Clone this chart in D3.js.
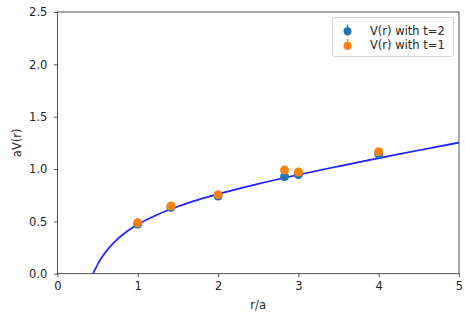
<!DOCTYPE html>
<html><head><meta charset="utf-8">
<script src="https://cdn.jsdelivr.net/npm/d3@7"></script>
<style>body{margin:0;background:#fff}svg{display:block}text{font-family:"DejaVu Sans",sans-serif}</style>
</head><body><svg id="c" width="465" height="320"></svg>
<script>
const rPoints = [1, 1.414, 2, 2.828, 3, 4];
const vT2 = [0.475, 0.633, 0.742, 0.927, 0.947, 1.143];
const vT1 = [0.487, 0.647, 0.755, 0.99, 0.971, 1.165];
const errT2 = [0.006, 0.006, 0.008, 0.01, 0.01, 0.012];
const errT1 = [0.005, 0.005, 0.006, 0.008, 0.008, 0.01];
const fitR = [0.444, 0.46, 0.5, 0.55, 0.6, 0.7, 0.8, 0.9, 1.0, 1.25, 1.5, 1.75, 2, 2.5, 3, 3.5, 4, 4.5, 5];
const fitV = [0.0, 0.026, 0.087, 0.152, 0.206, 0.294, 0.365, 0.422, 0.470, 0.566, 0.642, 0.705, 0.760, 0.858, 0.945, 1.026, 1.104, 1.179, 1.252];
const fitBand = [0.0, 0.001, 0.001, 0.001, 0.002, 0.002, 0.002, 0.003, 0.003, 0.004, 0.004, 0.005, 0.005, 0.006, 0.007, 0.008, 0.009, 0.01, 0.011];
const xTicks = [0, 1, 2, 3, 4, 5];
const yTicks = [0.0, 0.5, 1.0, 1.5, 2.0, 2.5];
const seriesNames = ["V(r) with t=2", "V(r) with t=1"];
const colors = ["#1f77b4", "#ff7f0e"];

const FS = 11.5;
const svg = d3.select("#c");
const L = 57.4, R = 459, T = 12, B = 273.7;
const x = d3.scaleLinear().domain([0, 5]).range([L, R]);
const y = d3.scaleLinear().domain([0, 2.5]).range([B, T]);

const defs = svg.append("defs");
defs.append("clipPath").attr("id", "clip").append("rect").attr("x", L).attr("y", T).attr("width", R - L).attr("height", B - T);

const g = svg.append("g").attr("clip-path", "url(#clip)");
const fit = fitR.map((r, i) => ({r, v: fitV[i], e: fitBand[i]}));
g.append("path").datum(fit)
  .attr("d", d3.area().x(d => x(d.r)).y0(d => y(d.v - d.e)).y1(d => y(d.v + d.e)).curve(d3.curveMonotoneX))
  .attr("fill", "#0000ff").attr("fill-opacity", 0.2);
g.append("path").datum(fit)
  .attr("d", d3.line().x(d => x(d.r)).y(d => y(d.v)).curve(d3.curveMonotoneX))
  .attr("fill", "none").attr("stroke", "#0000ff").attr("stroke-opacity", 0.85).attr("stroke-width", 1.7);

[[vT2, errT2], [vT1, errT1]].forEach(([vals, errs], si) => {
  const pts = rPoints.map((r, i) => ({r, v: vals[i], e: errs[i]}));
  g.selectAll(null).data(pts).enter().append("line")
    .attr("x1", d => x(d.r)).attr("x2", d => x(d.r))
    .attr("y1", d => y(d.v - d.e)).attr("y2", d => y(d.v + d.e))
    .attr("stroke", colors[si]).attr("stroke-width", 1.5);
  g.selectAll(null).data(pts).enter().append("circle")
    .attr("cx", d => x(d.r)).attr("cy", d => y(d.v)).attr("r", 4.5)
    .attr("fill", colors[si]);
});

// axes
const xa = svg.append("g").attr("transform", `translate(0,${B})`)
  .call(d3.axisBottom(x).tickValues(xTicks).tickFormat(d3.format("d")).tickSize(3.5).tickPadding(5));
const ya = svg.append("g").attr("transform", `translate(${L},0)`)
  .call(d3.axisLeft(y).tickValues(yTicks).tickFormat(d3.format(".1f")).tickSize(3.5).tickPadding(6.5));
[xa, ya].forEach(a => {
  a.selectAll("text").attr("font-size", FS).attr("fill", "#262626").style("font-family", '"DejaVu Sans",sans-serif');
  a.selectAll(".tick line").attr("stroke", "#262626").attr("stroke-width", 0.8);
  a.select(".domain").remove();
});
svg.append("rect").attr("x", L).attr("y", T).attr("width", R - L).attr("height", B - T)
  .attr("fill", "none").attr("stroke", "#262626").attr("stroke-width", 0.8);

svg.append("text").attr("x", (L + R) / 2).attr("y", 309).attr("text-anchor", "middle")
  .attr("font-size", FS).attr("fill", "#262626").text("r/a");
svg.append("text").attr("transform", `translate(20.5,${(T + B) / 2}) rotate(-90)`).attr("text-anchor", "middle")
  .attr("font-size", FS).attr("fill", "#262626").text("aV(r)");

// legend
const lg = svg.append("g");
lg.append("rect").attr("x", 332.5).attr("y", 17.5).attr("width", 121).attr("height", 39).attr("rx", 2.5)
  .attr("fill", "#fff").attr("fill-opacity", 0.8).attr("stroke", "#cccccc").attr("stroke-width", 0.8);
seriesNames.forEach((n, i) => {
  const yy = 30.7 + i * 14.5;
  lg.append("line").attr("x1", 347.5).attr("x2", 347.5).attr("y1", yy - 6).attr("y2", yy + 5)
    .attr("stroke", colors[i]).attr("stroke-width", 1.5);
  lg.append("circle").attr("cx", 347.5).attr("cy", yy + 0.5).attr("r", 4).attr("fill", colors[i]);
  lg.append("text").attr("x", 370).attr("y", yy + 4.2).attr("font-size", FS).attr("fill", "#262626").text(n);
});
</script></body></html>
